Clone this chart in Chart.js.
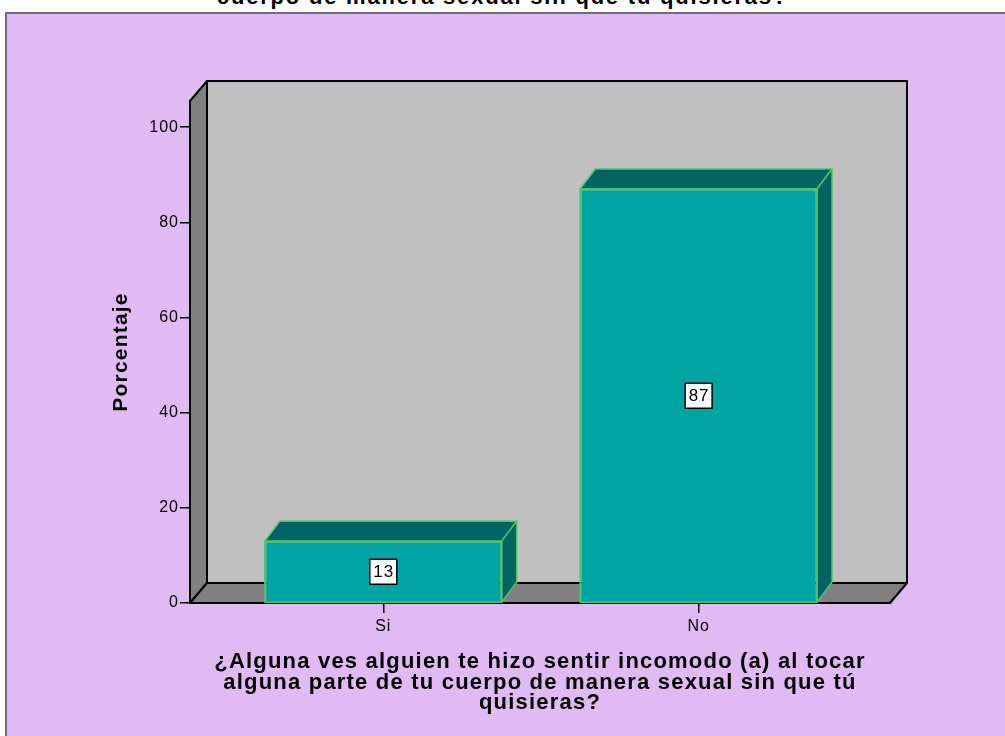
<!DOCTYPE html>
<html>
<head>
<meta charset="utf-8">
<script src="https://cdn.jsdelivr.net/npm/chart.js@4.4.1/dist/chart.umd.min.js"></script>
<style>
  html, body { margin: 0; padding: 0; background: #ffffff; width: 1005px; height: 736px; overflow: hidden; }
  #frame { position: absolute; left: 5px; top: 12px; width: 1010px; height: 740px; background: #E0BAF2; border-left: 2px solid #6e6e6e; border-top: 2px solid #6e6e6e; }
  #wrap { position: absolute; left: 0; top: 0; width: 1005px; height: 736px; }
  #toptitle { position: absolute; left: 0; width: 1005px; top: -16px; text-align: center; font: bold 22px "Liberation Sans", Arial, sans-serif; color: #000; letter-spacing: 1.8px; white-space: nowrap; }
</style>
</head>
<body>
<div id="frame"></div>
<div id="toptitle">cuerpo de manera sexual sin que tu quisieras?</div>
<div id="wrap"><canvas id="c" width="1005" height="736"></canvas></div>
<script>
// ---- data ----
const categories = ['Si', 'No'];
const percentages = [13, 87];
const yTickValues = [0, 20, 40, 60, 80, 100];
const xTitleLines = ['¿Alguna ves alguien te hizo sentir incomodo (a) al tocar', 'alguna parte de tu cuerpo de manera sexual sin que tú', 'quisieras?'];
const yTitle = 'Porcentaje';

const FONT = '"Liberation Sans", Arial, sans-serif';
const WALL_DX = 17, WALL_DY = -20;
const BAR_DX = 15, BAR_DY = -20;

const canvas = document.getElementById('c');
const c2d = canvas.getContext('2d');
// slightly wider text spacing like the original rendering
const origFillText = c2d.fillText;
c2d.fillText = function (t, x, y, mw) {
  this.letterSpacing = /bold/.test(this.font) ? '1.2px' : '1px';
  return mw === undefined ? origFillText.call(this, t, x, y) : origFillText.call(this, t, x, y, mw);
};

const wallsPlugin = {
  id: 'walls',
  beforeDraw(chart) {
    const ctx = chart.ctx;
    const a = chart.chartArea;
    ctx.save();
    ctx.lineJoin = 'round';
    ctx.lineWidth = 2;
    ctx.strokeStyle = '#000';
    // back wall
    ctx.fillStyle = '#C0C0C0';
    ctx.beginPath();
    ctx.rect(a.left + WALL_DX, a.top + WALL_DY, a.right - a.left, a.bottom - a.top);
    ctx.fill(); ctx.stroke();
    // left wall
    ctx.fillStyle = '#808080';
    ctx.beginPath();
    ctx.moveTo(a.left, a.bottom);
    ctx.lineTo(a.left, a.top);
    ctx.lineTo(a.left + WALL_DX, a.top + WALL_DY);
    ctx.lineTo(a.left + WALL_DX, a.bottom + WALL_DY);
    ctx.closePath();
    ctx.fill(); ctx.stroke();
    // floor
    ctx.beginPath();
    ctx.moveTo(a.left, a.bottom);
    ctx.lineTo(a.right, a.bottom);
    ctx.lineTo(a.right + WALL_DX, a.bottom + WALL_DY);
    ctx.lineTo(a.left + WALL_DX, a.bottom + WALL_DY);
    ctx.closePath();
    ctx.fill(); ctx.stroke();
    ctx.restore();
  },
  afterDatasetsDraw(chart) {
    const ctx = chart.ctx;
    const meta = chart.getDatasetMeta(0);
    ctx.save();
    ctx.lineJoin = 'round';
    meta.data.forEach((bar, i) => {
      const p = bar.getProps(['x', 'y', 'base', 'width'], true);
      const l = p.x - p.width / 2, r = p.x + p.width / 2, t = p.y, b = p.base;
      ctx.fillStyle = '#006462';
      ctx.strokeStyle = '#4FC36A';
      ctx.lineWidth = 1.5;
      // top face
      ctx.beginPath();
      ctx.moveTo(l, t); ctx.lineTo(r, t); ctx.lineTo(r + BAR_DX, t + BAR_DY); ctx.lineTo(l + BAR_DX, t + BAR_DY); ctx.closePath();
      ctx.fill(); ctx.stroke();
      // side face
      ctx.beginPath();
      ctx.moveTo(r, t); ctx.lineTo(r + BAR_DX, t + BAR_DY); ctx.lineTo(r + BAR_DX, b + BAR_DY); ctx.lineTo(r, b); ctx.closePath();
      ctx.fill(); ctx.stroke();
      // front face outline
      ctx.strokeRect(l, t, r - l, b - t);
      // value label
      const cy = (t + b) / 2;
      const txt = String(percentages[i]);
      ctx.font = '17px ' + FONT;
      const w = 27;
      const h = 25;
      ctx.fillStyle = '#ffffff';
      ctx.fillRect(p.x - w / 2, cy - h / 2, w, h);
      ctx.strokeStyle = '#000';
      ctx.lineWidth = 1.5;
      ctx.strokeRect(p.x - w / 2, cy - h / 2, w, h);
      ctx.fillStyle = '#000';
      ctx.textAlign = 'center';
      ctx.textBaseline = 'middle';
      ctx.fillText(txt, p.x + 0.5, cy + 1);
    });
    ctx.restore();
  }
};

new Chart(canvas, {
  type: 'bar',
  data: {
    datasets: [{
      data: categories.map((c, i) => ({ x: i, y: percentages[i] })),
      backgroundColor: '#00A5A3',
      borderColor: '#4FC36A',
      borderWidth: 1.5,
      categoryPercentage: 0.751,
      barPercentage: 1.0
    }]
  },
  options: {
    responsive: false,
    animation: false,
    devicePixelRatio: 1,
    layout: { padding: { left: 0, right: 115, top: 101, bottom: 0 } },
    plugins: { legend: { display: false }, tooltip: { enabled: false }, title: { display: false } },
    scales: {
      x: {
        type: 'linear',
        offset: false,
        min: -0.613,
        max: 1.607,
        afterBuildTicks(s) { s.ticks = categories.map((c, i) => ({ value: i })); },
        afterFit(s) { s.height = 133; },
        ticks: {
          callback: (v) => categories[v] ?? '',
          color: '#000',
          font: { family: FONT, size: 16 },
          padding: 4,
          maxRotation: 0
        },
        grid: { offset: false, drawOnChartArea: false, drawTicks: true, tickLength: 10, color: '#000', lineWidth: 1.5 },
        border: { display: true, color: '#000', width: 2 },
        title: {
          display: true,
          text: xTitleLines,
          color: '#000',
          font: { family: FONT, size: 22, weight: 'bold', lineHeight: 0.92 },
          padding: { top: 0, bottom: 23 }
        }
      },
      y: {
        min: 0,
        max: 105.5,
        afterBuildTicks(s) { s.ticks = yTickValues.map(v => ({ value: v })); },
        afterFit(s) { s.width = 190; },
        ticks: { color: '#000', font: { family: FONT, size: 16 }, padding: 1 },
        grid: { drawOnChartArea: false, drawTicks: true, tickLength: 10, color: '#000', lineWidth: 1.5 },
        border: { display: true, color: '#000', width: 2 },
        title: {
          display: true,
          text: yTitle,
          color: '#000',
          font: { family: FONT, size: 21, weight: 'bold', lineHeight: 1.2 },
          padding: { top: 109, bottom: 0 }
        }
      }
    }
  },
  plugins: [wallsPlugin]
});
</script>
</body>
</html>
